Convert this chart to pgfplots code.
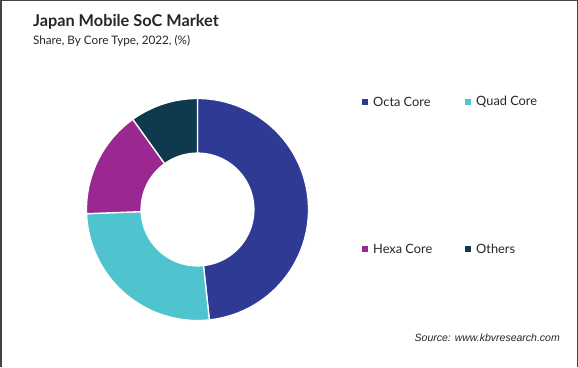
\documentclass[border=0pt]{standalone}
\usepackage{pgfplots}
\pgfplotsset{compat=1.18}
\usepackage{pgfplotstable}
\usepackage{fontspec}
\setmainfont{Lato}
\newfontfamily\srcfont{Liberation Sans}
\definecolor{octa}{HTML}{2E3A94}
\definecolor{quad}{HTML}{4FC4CF}
\definecolor{hexa}{HTML}{9B2790}
\definecolor{others}{HTML}{0F3A4D}
\definecolor{frame}{HTML}{444444}
% share (%) per core type, in drawing order clockwise from 12 o'clock
\pgfplotstableread{
name share
Octa 48.3
Quad 26.1
Hexa 15.7
Others 9.9
}\sharetable
\begin{document}
\begin{tikzpicture}[x=1pt,y=1pt]
\path[use as bounding box] (0,0) rectangle (578,367);
\fill[white] (0,0) rectangle (578,367);
\draw[frame, line width=1.5pt] (0.75,0) -- (0.75,366.25) -- (577.25,366.25) -- (577.25,0);
\node[anchor=base west, font=\fontsize{16.3}{20}\selectfont\bfseries, text=black!85] at (29.5,340) {Japan Mobile SoC Market};
\node[anchor=base west, font=\fontsize{11.7}{14}\selectfont, text=black!85] at (29.5,322) {Share, By Core Type, 2022, (\%)};
\begin{axis}[at={(86.5pt,46.5pt)}, anchor=south west, scale only axis,
  width=222pt, height=222pt, xmin=-1, xmax=1, ymin=-1, ymax=1,
  hide axis, clip=false]
\pgfplotstablegetelem{0}{share}\of\sharetable \let\sA\pgfplotsretval
\pgfplotstablegetelem{1}{share}\of\sharetable \let\sB\pgfplotsretval
\pgfplotstablegetelem{2}{share}\of\sharetable \let\sC\pgfplotsretval
\pgfplotstablegetelem{3}{share}\of\sharetable \let\sD\pgfplotsretval
\pgfmathsetmacro{\cA}{\sA}
\pgfmathsetmacro{\cB}{\cA+\sB}
\pgfmathsetmacro{\cC}{\cB+\sC}
\pgfmathsetmacro{\cD}{\cC+\sD}
\addplot[fill=octa, draw=white, line width=1.3pt, domain=0:\cA, samples=80, variable=\t]
  ({cos(90-3.6*\t)},{sin(90-3.6*\t)}) -- (axis cs:0,0) -- cycle;
\addplot[fill=quad, draw=white, line width=1.3pt, domain=\cA:\cB, samples=60, variable=\t]
  ({cos(90-3.6*\t)},{sin(90-3.6*\t)}) -- (axis cs:0,0) -- cycle;
\addplot[fill=hexa, draw=white, line width=1.3pt, domain=\cB:\cC, samples=40, variable=\t]
  ({cos(90-3.6*\t)},{sin(90-3.6*\t)}) -- (axis cs:0,0) -- cycle;
\addplot[fill=others, draw=white, line width=1.3pt, domain=\cC:\cD, samples=30, variable=\t]
  ({cos(90-3.6*\t)},{sin(90-3.6*\t)}) -- (axis cs:0,0) -- cycle;
\addplot[fill=white, draw=none, domain=0:360, samples=120, variable=\t]
  ({0.514*cos(\t)},{0.514*sin(\t)}) -- cycle;
\end{axis}
\tikzset{lg/.style={anchor=west, font=\fontsize{12.8}{14}\selectfont, text=black!85, inner sep=0pt}}
\fill[octa] (362,262) rectangle (368,268);
\node[lg] at (373,265) {Octa Core};
\fill[quad] (465,262) rectangle (471,268);
\node[lg] at (476,265) {Quad Core};
\fill[hexa] (362,115) rectangle (368,121);
\node[lg] at (373,118) {Hexa Core};
\fill[others] (465,115) rectangle (471,121);
\node[lg] at (476,118) {Others};
\node[anchor=east, font=\srcfont\itshape\fontsize{10.5}{12}\selectfont, text=black!85, inner sep=0pt] at (560,29) {Source: www.kbvresearch.com};
\end{tikzpicture}
\end{document}
